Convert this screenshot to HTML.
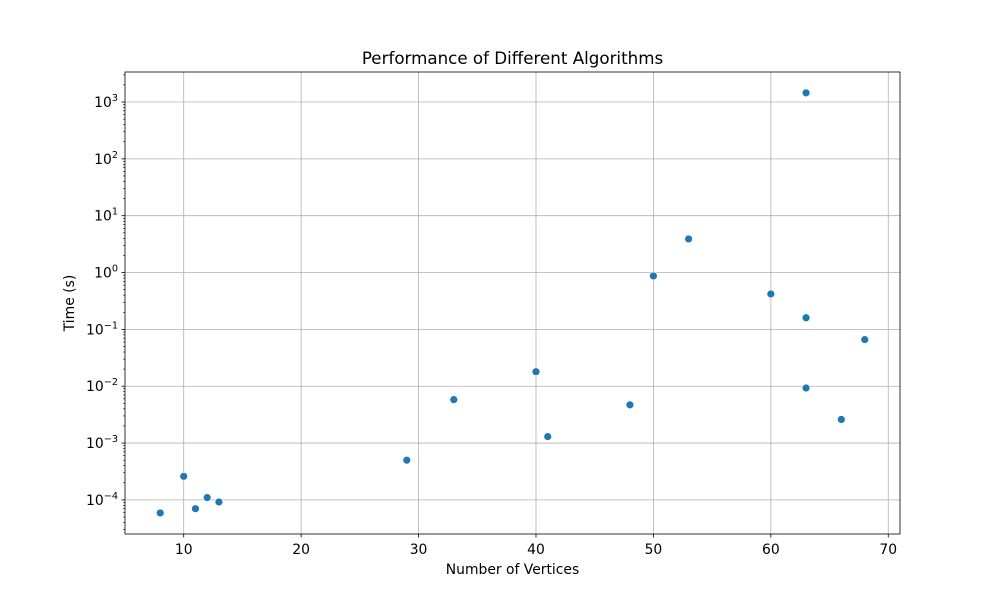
<!DOCTYPE html>
<html><head><meta charset="utf-8"><style>
html,body{margin:0;padding:0;background:#fff;}
svg text{font-family:"DejaVu Sans","Liberation Sans",sans-serif;fill:#000;}
</style></head><body>
<svg id="chart" width="1000" height="600" xmlns="http://www.w3.org/2000/svg">
<text x="512.5" y="64" font-size="16.7" text-anchor="middle">Performance of Different Algorithms</text>
<text x="512.5" y="574" font-size="13.9" text-anchor="middle">Number of Vertices</text>
<text x="0" y="0" font-size="13.9" text-anchor="middle" transform="translate(74,303) rotate(-90)">Time (s)</text>
<g id="grid"></g>
<g id="axes"></g>
<g id="points"></g>
<rect x="125" y="72" width="775" height="462" fill="none" stroke="#000" stroke-width="0.8"/>
</svg>
<script>
const vertices = [8,10,11,12,13,29,33,40,41,48,50,53,60,63,63,63,66,68];
const times = [5.9e-5,2.6e-4,7e-5,1.1e-4,9.2e-5,5e-4,5.8e-3,0.018,1.3e-3,4.7e-3,0.87,3.9,0.42,1450,0.16,0.0093,2.6e-3,0.066];
const xTicks = [10,20,30,40,50,60,70];
const yTickExps = [-4,-3,-2,-1,0,1,2,3];

const L=125,R=900,T=72,B=534;
const xMin=5, xMax=71;
const yMinE=-4.6, yMaxE=3.528;
function xs(v){return L+(v-xMin)/(xMax-xMin)*(R-L);}
function ys(v){const e=Math.log10(v);return B-(e-yMinE)/(yMaxE-yMinE)*(B-T);}
const NS="http://www.w3.org/2000/svg";
function mk(tag,attrs,parent){const el=document.createElementNS(NS,tag);for(const k in attrs)el.setAttribute(k,attrs[k]);parent.appendChild(el);return el;}
const grid=document.getElementById('grid'),axes=document.getElementById('axes'),pts=document.getElementById('points');

xTicks.forEach(t=>{
  const x=xs(t);
  const g=mk('line',{x1:x,x2:x,y1:T,y2:B,stroke:'#b0b0b0','stroke-width':0.8},grid);
  
  
  mk('line',{x1:x,x2:x,y1:B,y2:B+3.5,stroke:'#000','stroke-width':0.8},axes);
  const tx=mk('text',{x:x,y:B+20,'font-size':13.9,'text-anchor':'middle'},axes);
  tx.textContent=t;
  
  
});
yTickExps.forEach(e=>{
  const y=ys(Math.pow(10,e));
  const g=mk('line',{x1:L,x2:R,y1:y,y2:y,stroke:'#b0b0b0','stroke-width':0.8},grid);
  
  
  mk('line',{x1:L-3.5,x2:L,y1:y,y2:y,stroke:'#000','stroke-width':0.8},axes);
  const tx=mk('text',{x:L-7,y:y+5,'font-size':13.9,'text-anchor':'end'},axes);
  tx.innerHTML='10<tspan font-size="9.7" dy="-6">'+(e<0?'\u2212'+(-e):e)+'</tspan>';
  
  
});
for(let e=-5;e<=3;e++){for(let m=2;m<=9;m++){const v=m*Math.pow(10,e);const y=ys(v);if(y<T||y>B)continue;mk('line',{x1:L-2,x2:L,y1:y,y2:y,stroke:'#000','stroke-width':0.6},axes);}}

vertices.forEach((v,i)=>{
  const c=mk('circle',{cx:xs(v),cy:ys(times[i]),r:3.9,fill:'#1f77b4',stroke:'#fff','stroke-width':0.6},pts);
  
  
});
</script>
</body></html>
